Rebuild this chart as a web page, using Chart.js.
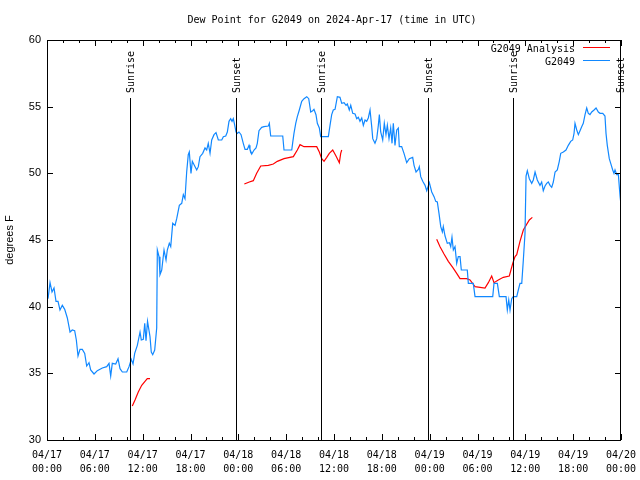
<!DOCTYPE html>
<html>
<head>
<meta charset="utf-8">
<script src="https://cdn.jsdelivr.net/npm/chart.js@4/dist/chart.umd.min.js"></script>
<style>
  html, body { margin: 0; padding: 0; background: #fff; }
  #wrap { width: 640px; height: 480px; position: relative; }
</style>
</head>
<body>
<div id="wrap"><canvas id="c" width="640" height="480"></canvas></div>
<script>
// ---- Data (hours since 2024-04-17 00:00 UTC, degrees F) ----
const chartTitle = "Dew Point for G2049 on 2024-Apr-17 (time in UTC)";
const yAxisTitle = "degrees F";
const seriesNames = ["G2049 Analysis", "G2049"];

const tickDates = ["04/17","04/17","04/17","04/17","04/18","04/18","04/18","04/18","04/19","04/19","04/19","04/19","04/20"];
const tickTimes = ["00:00","06:00","12:00","18:00","00:00","06:00","12:00","18:00","00:00","06:00","12:00","18:00","00:00"];

const eventHours = [10.4, 23.7, 34.4, 47.8, 58.5, 72.0];
const eventLabels = ["Sunrise", "Sunset", "Sunrise", "Sunset", "Sunrise", "Sunset"];

const obsHours = [0.13,0.38,0.63,0.88,1.13,1.38,1.63,1.92,2.22,2.55,2.89,3.17,3.47,3.68,3.89,4.14,4.43,4.73,4.98,5.27,5.48,5.9,6.31,6.94,7.49,7.78,7.99,8.19,8.62,8.91,9.16,9.45,10.0,10.29,10.57,10.79,11.0,11.33,11.67,11.83,12.08,12.26,12.42,12.61,12.92,13.08,13.26,13.51,13.76,13.84,14.05,14.17,14.39,14.68,14.93,15.09,15.34,15.52,15.77,16.06,16.27,16.6,16.9,17.1,17.31,17.52,17.72,17.85,18.06,18.23,18.57,18.78,18.98,19.19,19.53,19.82,20.03,20.23,20.45,20.66,20.95,21.2,21.49,21.92,22.12,22.42,22.62,22.83,23.04,23.21,23.37,23.55,23.71,23.87,24.08,24.34,24.62,24.84,25.13,25.34,25.46,25.68,25.97,26.22,26.38,26.59,26.93,27.22,27.76,27.89,28.06,29.57,29.73,30.7,30.82,30.98,31.2,31.4,31.65,31.95,32.24,32.58,32.83,33.08,33.33,33.49,33.74,33.91,34.16,34.33,35.29,35.5,35.71,35.91,36.13,36.42,36.75,36.97,37.26,37.51,37.67,37.92,38.1,38.35,38.64,38.85,39.05,39.26,39.48,39.68,39.89,40.1,40.3,40.52,40.73,40.86,41.14,41.36,41.56,41.69,41.86,42.11,42.31,42.52,42.69,42.9,43.11,43.28,43.44,43.65,43.87,44.07,44.19,44.49,44.78,45.12,45.45,45.87,46.04,46.29,46.58,46.7,46.88,47.13,47.42,47.63,47.96,48.26,48.55,48.76,48.96,49.17,49.39,49.59,49.71,49.93,50.21,50.47,50.64,50.8,50.97,51.18,51.39,51.59,51.81,51.97,52.72,52.85,53.47,53.69,55.91,56.07,56.49,56.74,57.58,57.74,57.92,58.08,58.29,58.49,58.92,59.12,59.33,59.55,59.75,59.96,60.09,60.25,60.5,60.8,61.0,61.22,61.5,61.84,62.05,62.25,62.47,62.68,62.88,63.1,63.31,63.51,63.73,64.01,64.26,64.44,64.77,65.1,65.39,65.69,65.94,66.11,66.23,66.45,66.65,66.86,67.07,67.27,67.49,67.7,67.9,68.11,68.33,68.62,68.87,69.16,69.37,69.71,69.99,70.12,70.28,70.53,70.71,70.96,71.12,71.25,71.46,71.67,71.8,71.89,71.98];
const obsValues = [40.6,41.8,41.1,41.4,40.4,40.4,39.75,40.1,39.8,39.15,38.1,38.25,38.2,37.5,36.3,36.8,36.8,36.5,35.55,35.8,35.25,34.95,35.2,35.4,35.5,35.75,34.8,35.75,35.7,36.1,35.35,35.1,35.1,35.5,36.05,35.7,36.5,37.1,38.1,37.5,37.55,38.75,37.45,38.9,37.75,36.6,36.4,36.75,38.4,44.25,43.75,42.4,42.75,44.25,43.5,44.25,44.75,44.5,46.25,46.1,46.6,47.6,47.75,48.4,48.1,50.1,51.4,51.6,50.0,50.9,50.5,50.25,50.5,51.25,51.5,51.9,51.75,52.25,51.5,52.5,52.9,53.05,52.5,52.5,52.75,52.8,53.1,53.9,54.1,53.9,54.1,53.6,53.1,53.0,53.1,52.9,52.25,51.8,51.8,52.1,51.8,51.45,51.75,51.9,52.25,53.2,53.45,53.5,53.55,53.75,52.8,52.8,51.75,51.75,52.3,53.0,53.75,54.25,54.75,55.4,55.6,55.75,55.6,54.6,54.7,54.8,54.4,53.75,53.4,52.75,52.75,53.6,54.4,54.75,54.8,55.75,55.7,55.25,55.3,55.1,55.2,54.75,55.1,54.5,54.45,54.1,54.2,53.9,54.15,53.6,54.0,53.9,54.15,54.75,53.5,52.6,52.25,52.6,53.6,54.4,53.1,52.5,53.75,52.9,53.6,52.6,53.4,52.25,53.75,52.1,53.25,53.4,52.0,52.0,51.5,50.8,51.1,51.2,50.6,50.1,50.3,50.5,49.75,49.4,49.1,48.7,49.3,48.6,48.25,47.9,47.85,47.0,46.0,45.6,46.0,45.3,44.75,44.8,44.5,45.2,44.25,44.5,43.25,43.75,43.75,42.75,42.75,41.75,41.75,40.75,40.75,41.75,41.75,40.75,40.75,39.75,40.5,39.75,40.6,40.75,40.75,41.25,41.75,41.75,43.5,45.5,49.8,50.2,49.6,49.25,49.5,50.1,49.5,49.1,49.35,48.7,49.05,49.25,49.35,49.1,48.95,49.35,50.1,50.25,50.9,51.5,51.6,51.75,52.1,52.4,52.5,53.0,53.75,53.25,52.9,53.2,53.5,53.75,54.4,54.9,54.5,54.4,54.6,54.75,54.9,54.6,54.5,54.5,54.3,53.0,52.1,51.1,50.75,50.25,50.0,50.25,49.9,49.9,48.9,48.25,47.75];

// analysis series; null values mark gaps between runs
const anaHours = [10.7,11.04,11.45,11.88,12.29,12.58,12.92, 18,
  24.75,25.38,25.88,26.3,26.81,27.76,28.39,28.89,29.73,30.9,31.4,31.74,32.24,33.83,34.16,34.46,34.75,35.09,35.41,35.84,36.25,36.67,36.84,36.97, 42,
  48.88,49.3,49.8,50.34,50.89,51.39,51.81,52.65,53.06,53.69,54.94,55.36,55.78,56.07,56.61,57.24,57.99,58.42,58.71,58.92,59.33,59.75,60.09,60.5,60.88];
const anaValues = [32.55,33.0,33.6,34.1,34.4,34.6,34.6, null,
  49.2,49.35,49.45,50.0,50.55,50.6,50.7,50.9,51.1,51.25,51.75,52.15,52.0,52.0,51.6,51.1,50.9,51.2,51.5,51.75,51.3,50.8,51.5,51.75, null,
  45.05,44.5,43.95,43.4,42.95,42.5,42.1,42.1,42.0,41.5,41.4,41.8,42.3,41.8,42.0,42.2,42.3,43.25,43.75,43.9,44.9,45.75,46.1,46.5,46.7];

const colAna = "#ff0000";
const colObs = "#1188ff";

const toXY = (xs, ys) => xs.map((x, i) => ({ x: x, y: ys[i] }));

const MONO = "'DejaVu Sans Mono', monospace";
const SANS = "'Liberation Sans', Arial, sans-serif";

const overlay = {
  id: 'overlay',
  afterDatasetsDraw(chart) {
    const { ctx, chartArea: a, scales } = chart;
    const xs = scales.x, ys = scales.y;
    ctx.save();
    ctx.strokeStyle = '#000';
    ctx.fillStyle = '#000';
    ctx.lineWidth = 1;
    // frame
    ctx.strokeRect(a.left + 0.5, a.top + 0.5, a.right - a.left - 1, a.bottom - a.top);
    // x ticks (major every 6h, minor every 2h), inward on bottom and top
    ctx.beginPath();
    for (let h = 0; h <= 72; h += 2) {
      const px = Math.round(xs.getPixelForValue(h)) + 0.5;
      const len = (h % 6 === 0) ? 6 : 3;
      ctx.moveTo(px, a.bottom); ctx.lineTo(px, a.bottom - len);
      ctx.moveTo(px, a.top); ctx.lineTo(px, a.top + len);
    }
    // y ticks inward on left and right
    for (let v = 30; v <= 60; v += 5) {
      const py = Math.round(ys.getPixelForValue(v)) + 0.5;
      ctx.moveTo(a.left, py); ctx.lineTo(a.left + 6, py);
      ctx.moveTo(a.right, py); ctx.lineTo(a.right - 6, py);
    }
    ctx.stroke();
    // events
    ctx.font = "10px " + MONO;
    eventHours.forEach((h, i) => {
      const px = Math.min(Math.round(xs.getPixelForValue(h)) + 0.5, a.right - 0.5);
      ctx.beginPath();
      ctx.moveTo(px, 98); ctx.lineTo(px, a.bottom);
      ctx.stroke();
      ctx.save();
      ctx.translate(px + 1, 93);
      ctx.rotate(-Math.PI / 2);
      ctx.textAlign = 'left';
      ctx.textBaseline = 'middle';
      ctx.fillText(eventLabels[i], 0, 0);
      ctx.restore();
    });
    // legend
    const legCols = [colAna, colObs];
    ctx.textAlign = 'right';
    ctx.textBaseline = 'middle';
    seriesNames.forEach((n, i) => {
      const yy = 49 + i * 13;
      ctx.fillStyle = '#000';
      ctx.fillText(n, 575, yy);
      ctx.strokeStyle = legCols[i];
      ctx.beginPath();
      ctx.moveTo(583, yy - 1.5); ctx.lineTo(610, yy - 1.5);
      ctx.stroke();
    });
    // title
    ctx.fillStyle = '#000';
    ctx.textAlign = 'center';
    ctx.textBaseline = 'middle';
    ctx.font = "10px " + MONO;
    ctx.fillText(chartTitle, 332, 20);
    // y axis title
    ctx.save();
    ctx.translate(10, 240);
    ctx.rotate(-Math.PI / 2);
    ctx.font = "11px " + SANS;
    ctx.fillText(yAxisTitle, 0, 0);
    ctx.restore();
    ctx.restore();
  }
};

new Chart(document.getElementById('c'), {
  type: 'line',
  data: {
    datasets: [
      { label: seriesNames[1], data: toXY(obsHours, obsValues), borderColor: colObs, borderWidth: 1.2, pointRadius: 0, tension: 0, spanGaps: false },
      { label: seriesNames[0], data: toXY(anaHours, anaValues), borderColor: colAna, borderWidth: 1.2, pointRadius: 0, tension: 0, spanGaps: false }
    ]
  },
  options: {
    responsive: false,
    animation: false,
    events: [],
    layout: { padding: { top: 40, right: 19, left: 0, bottom: 0 } },
    plugins: { legend: { display: false }, title: { display: false }, tooltip: { enabled: false } },
    scales: {
      x: {
        type: 'linear', min: 0, max: 72,
        grid: { display: false, drawTicks: false },
        border: { display: false },
        afterFit: (s) => { s.height = 40; s.paddingLeft = 0; s.paddingRight = 0; },
        ticks: {
          stepSize: 6, maxRotation: 0, autoSkip: false, padding: 8,
          color: '#000',
          font: { family: MONO, size: 10, lineHeight: '14px' },
          callback: (v, i) => [tickDates[i], tickTimes[i]]
        }
      },
      y: {
        min: 30, max: 60,
        grid: { display: false, drawTicks: false },
        border: { display: false },
        afterFit: (s) => { s.width = 47; s.paddingTop = 0; s.paddingBottom = 0; },
        ticks: {
          stepSize: 5, padding: 6, color: '#000',
          font: { family: SANS, size: 11 }
        }
      }
    }
  },
  plugins: [overlay]
});
</script>
</body>
</html>
